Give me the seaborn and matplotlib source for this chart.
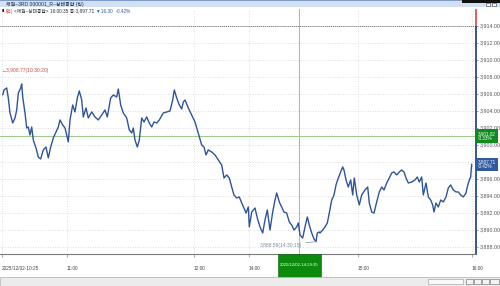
import numpy as np
import pandas as pd
import matplotlib
matplotlib.use('Agg')
import matplotlib.pyplot as plt
import matplotlib.transforms as mtransforms
import seaborn as sns
from matplotlib.patches import Rectangle

sns.set_style('white')
plt.rcParams['font.family'] = ['Liberation Sans', 'Noto Sans CJK KR', 'DejaVu Sans']

# ---- data (tick position along the session axis, price) ----
tick_pos = [2.7, 4, 6.7, 8.3, 10, 12.7, 15, 16.7, 18.3, 20.7,
            21.7, 22.7, 25, 26.7, 28.3, 30, 31.7, 33.3, 36, 38.3,
            40.7, 43.3, 46, 48.3, 50.7, 53.3, 56, 58.3, 60, 62.7,
            65, 66.7, 68.3, 70, 72.7, 75, 77.3, 79.3, 81.7, 83.3,
            86, 88.3, 91.7, 95, 98.3, 101.7, 105, 107.3, 110.7, 113.3,
            116.7, 118.3, 120.7, 123.3, 126.7, 129.3, 131.7, 133.3, 135, 137.3,
            139.3, 141.7, 144, 146.7, 149.3, 151.7, 154, 156.7, 159.3,
            163.3, 166.7, 170, 172.7, 174.3, 176.7, 179.3, 181.7, 183.3, 185,
            188.3, 191.7, 195, 197.3, 199.3, 201.7, 204, 206, 208.3, 211.7,
            215, 218.3, 221.7, 224, 226.7, 229.3, 231.7, 234, 236.7, 239.3,
            241.7, 244, 246, 248.3, 249.3, 251.7, 255, 257.3, 260, 262.7,
            265, 267.3, 270, 272.7, 275, 276.7, 279.3, 281.7, 284, 286.7,
            289.3, 291.7, 294, 296.7, 298.3, 300, 302.7, 305, 307.3, 309.3,
            311.7, 314, 316, 317.3, 319.3,
            320, 322.7, 325, 327.3, 329.3, 331.7, 334, 336, 338.3, 340.7,
            342.7, 344, 346, 348.3, 350.7, 352.7, 354.3, 356.7, 359.3, 361.7,
            365, 367.7, 369.3, 371.7, 374, 376.7, 379.3, 381.7, 384, 386.7,
            389.3, 391.7, 394, 396.7, 399.3, 401.7, 404, 406, 408.3, 411.7,
            415, 417.3, 419.3, 421.7, 423.3, 426, 428.3, 430.7, 432.7, 434,
            436, 438.3, 440.7, 443.3, 446, 448.3, 450.7, 453.3, 456, 458.3,
            460.7, 463.3, 466, 467.3, 469.3, 470.7, 471.7]
price = [3905.85, 3906.44, 3906.67, 3905.49, 3903.73, 3902.55, 3903.14, 3904.08, 3906.08, 3906.67,
         3907.14, 3905.61, 3903.73, 3901.96, 3902.08, 3901.14, 3902.08, 3900.55, 3899.61, 3898.55,
         3898.32, 3899.38, 3899.73, 3898.44, 3899.73, 3900.79, 3901.49, 3902.08, 3902.91, 3902.32,
         3901.96, 3901.14, 3900.32, 3902.91, 3904.67, 3903.85, 3905.49, 3906.32, 3905.26, 3903.26,
         3904.32, 3903.14, 3903.85, 3903.26, 3902.91, 3903.49, 3904.08, 3903.26, 3905.49, 3905.85,
         3905.61, 3906.55, 3904.67, 3903.73, 3903.14, 3901.73, 3901.38, 3901.96, 3900.55, 3899.73,
         3900.55, 3903.14, 3902.67, 3903.26, 3902.55, 3902.08, 3902.67, 3902.55, 3902.91,
         3903.73, 3903.85, 3903.96, 3905.26, 3906.44, 3905.49, 3904.67, 3904.20, 3905.02, 3905.26,
         3904.32, 3903.49, 3902.67, 3901.73, 3900.91, 3899.96, 3899.73, 3898.79, 3899.38, 3899.14,
         3898.79, 3898.20, 3897.61, 3896.08, 3896.44, 3896.08, 3895.02, 3894.08, 3893.73, 3893.85,
         3893.14, 3892.55, 3891.96, 3892.67, 3890.32, 3892.08, 3892.55, 3891.38, 3890.32, 3889.61,
         3891.14, 3892.32, 3889.96, 3892.08, 3893.49, 3894.32, 3893.26, 3892.67, 3892.08, 3891.96,
         3890.91, 3890.55, 3889.96, 3890.32, 3890.79, 3889.38, 3889.02, 3890.32, 3891.49, 3890.55,
         3889.61, 3888.91, 3888.59, 3889.61, 3889.73,
         3889.61, 3889.96, 3890.32, 3890.79, 3891.96, 3893.49, 3894.08, 3895.26, 3896.08, 3896.79,
         3897.38, 3897.02, 3895.85, 3895.02, 3895.85, 3894.08, 3896.08, 3894.08, 3892.91, 3894.08,
         3894.67, 3895.02, 3893.14, 3892.08, 3891.96, 3893.26, 3894.44, 3895.02, 3894.67, 3895.49,
         3896.08, 3896.67, 3896.79, 3896.44, 3896.79, 3897.02, 3896.79, 3896.08, 3895.49, 3895.61,
         3895.85, 3896.20, 3895.61, 3896.20, 3894.08, 3895.49, 3893.85, 3893.49, 3892.91, 3892.08,
         3893.14, 3892.67, 3893.49, 3893.26, 3893.85, 3894.91, 3895.26, 3894.67, 3894.44, 3894.44,
         3894.08, 3893.85, 3894.32, 3895.02, 3895.85, 3896.20, 3897.71]

prev_close = 3914.01
last_price = 3897.71
last_change = '-0.42%'
cross_pos = 299
cross_price = 3901.02
cross_change = '-0.33%'
cross_time = '2025/12/02-14:29:35'
max_label = '←3,908.77(10:30:20)'
max_label_pos = 2
max_value = 3908.77
min_label = '3,888.59(14:30:15)'
min_pos = 316
min_value = 3888.59

x_tick_pos = [2, 66.7, 194, 249, 357.7, 471.7]
x_tick_labels = ['2025/12/02-10:25', '11:00', '12:00', '14:00', '15:00', '16:00']
y_ticks = [3888, 3890, 3892, 3894, 3896, 3898, 3900, 3902, 3904, 3906, 3908, 3910, 3912, 3914]
hidden_y_labels = [3898]   # covered by the last-price box in the reference

title_text = '채권~3RD 000001_R~상태종합 (틱)'
legend_a = '(연)'
legend_b = '<채권~상태종합> 16:00:35 종:3,897.71'
legend_c = '▼16.30  -0.42%'

W, H = 500, 286
def fp(x, y):
    return (x / W, 1 - y / H)

fig = plt.figure(figsize=(5, 2.86), dpi=100)
fig.patch.set_facecolor('white')
ax_top, ax_bot, ax_right = 9, 254, 476
ax = fig.add_axes([0, 1 - ax_bot / H, ax_right / W, (ax_bot - ax_top) / H])
ax.set_facecolor('white')

df = pd.DataFrame({'pos': tick_pos, 'price': price})
sns.lineplot(data=df, x='pos', y='price', ax=ax, color='#2f549b', lw=1.0,
             estimator=None, sort=False, zorder=5)

ax.set_xlim(0, 476)
ax.set_ylim(3887.14, 3915.96)
ax.set_xlabel('')
ax.set_ylabel('')

ax.set_xticks(x_tick_pos)
ax.set_xticklabels(x_tick_labels)
for lbl in ax.get_xticklabels():
    lbl.set_ha('left')
ax.xaxis.get_major_ticks()[0].tick1line.set_visible(False)
ax.xaxis.get_major_ticks()[0].gridline.set_visible(False)
ax.yaxis.tick_right()
ax.set_yticks(y_ticks)
ax.set_yticklabels(['' if v in hidden_y_labels else f'{v:,.2f}' for v in y_ticks])
ax.grid(True, ls=(0, (1, 2)), color='#d2d2d2', lw=0.6)
ax.tick_params(axis='x', labelsize=3.4, length=2, width=0.5, pad=6.5,
               color='#888888', labelcolor='#444444', bottom=True)
ax.tick_params(axis='y', labelsize=3.8, length=1.5, width=0.5, pad=1.2,
               color='#777777', labelcolor='#555555', right=True, left=False)
for s in ['top', 'left', 'right']:
    ax.spines[s].set_visible(False)
ax.spines['bottom'].set_color('#7a7a7a')
ax.spines['bottom'].set_linewidth(0.8)

# previous close dotted line
ax.axhline(prev_close, color='#6a6a6a', ls=(0, (1, 1)), lw=0.7, zorder=3)

# right axis line (blue below prev close, red above)
ax.vlines(476, 3887.14, prev_close, color='#2a4a86', lw=1.3, clip_on=False, zorder=6)
ax.vlines(476, prev_close, 3915.96, color='#d9534f', lw=1.3, clip_on=False, zorder=6)

# crosshair
ax.axvline(cross_pos, color='#9ec98e', lw=0.8, zorder=4)
ax.axhline(cross_price, color='#9ec98e', lw=0.8, zorder=4)

# right value boxes
ax.annotate(f'{cross_price:,.2f}\n{cross_change}', xy=(1.0, cross_price),
            xycoords=('axes fraction', 'data'), xytext=(1.5, 0), textcoords='offset points',
            ha='left', va='center', fontsize=3.3, color='white', linespacing=1.0,
            bbox=dict(boxstyle='square,pad=0.35', fc='#0f8a1f', ec='none'),
            annotation_clip=False, zorder=10)
ax.annotate(f'{last_price:,.2f}\n{last_change}', xy=(1.0, last_price),
            xycoords=('axes fraction', 'data'), xytext=(1.5, 0), textcoords='offset points',
            ha='left', va='center', fontsize=3.3, color='white', linespacing=1.0,
            bbox=dict(boxstyle='square,pad=0.35', fc='#2f5aa0', ec='none'),
            annotation_clip=False, zorder=10)

# bottom crosshair time box (43 px wide, 23 px tall under the axis)
blend = mtransforms.blended_transform_factory(ax.transData, ax.transAxes)
box_h = 23 / (ax_bot - ax_top)
ax.add_patch(Rectangle((cross_pos - 21.5, -box_h), 43, box_h, transform=blend,
                       fc='#0b8a0b', ec='#0a5a0a', lw=0.4, clip_on=False, zorder=10))
ax.text(cross_pos, -box_h / 2, cross_time, transform=blend, ha='center', va='center',
        fontsize=3.1, color='white', zorder=11, clip_on=False)

# max / min labels
ax.text(max_label_pos, max_value, max_label, fontsize=3.6, color='#c0504d',
        ha='left', va='center', zorder=7)
ax.annotate(min_label, xy=(min_pos, min_value), xytext=(302, min_value - 0.4),
            ha='right', va='center', fontsize=3.6, color='#7d8ea3',
            arrowprops=dict(arrowstyle='-', color='#7d8ea3', lw=0.5,
                            shrinkA=0.5, shrinkB=0), zorder=7)

# ---- window chrome ----
fig.patches.append(Rectangle(fp(0, 7), 1, 7 / H, transform=fig.transFigure,
                             fc='#d3e0f1', ec='none', zorder=0))
fig.patches.append(Rectangle(fp(0, 1), 1, 1 / H, transform=fig.transFigure,
                             fc='#7f9cc7', ec='none', zorder=0))
fig.patches.append(Rectangle(fp(462, 2.7), 38 / W, 2.7 / H, transform=fig.transFigure,
                             fc='#111111', ec='none', zorder=1))
for bx in (486, 492):
    fig.patches.append(Rectangle(fp(bx, 6), 4 / W, 3 / H, transform=fig.transFigure,
                                 fc='white', ec='#333333', lw=0.4, zorder=2))

fig.text(*fp(6, 4), title_text, fontsize=3.6, color='#1d2a44', ha='left', va='center')
fig.text(*fp(1.5, 11), '▮', fontsize=3.2, color='#222222', ha='left', va='center')
fig.text(*fp(6, 11), legend_a, fontsize=3.4, color='#d0453f', ha='left', va='center')
fig.text(*fp(14, 11), legend_b, fontsize=3.4, color='#333333', ha='left', va='center')
fig.text(*fp(96, 11), legend_c, fontsize=3.4, color='#2f5aa0', ha='left', va='center')

# scrollbar
fig.patches.append(Rectangle(fp(0, 286), 1, 9 / H, transform=fig.transFigure,
                             fc='#ececec', ec='#b0b0b0', lw=0.5, zorder=0))
fig.patches.append(Rectangle(fp(428, 284), 35 / W, 5 / H, transform=fig.transFigure,
                             fc='#fafafa', ec='#999999', lw=0.4, zorder=1))
for bx in (466, 474, 482):
    fig.patches.append(Rectangle(fp(bx, 284), 7 / W, 5 / H, transform=fig.transFigure,
                                 fc='#f4f4f4', ec='#666666', lw=0.4, zorder=1))
fig.patches.append(Rectangle(fp(490, 284), 9 / W, 5 / H, transform=fig.transFigure,
                             fc='#f4f4f4', ec='#666666', lw=0.4, zorder=1))

fig.savefig('out.png', dpi=100)
